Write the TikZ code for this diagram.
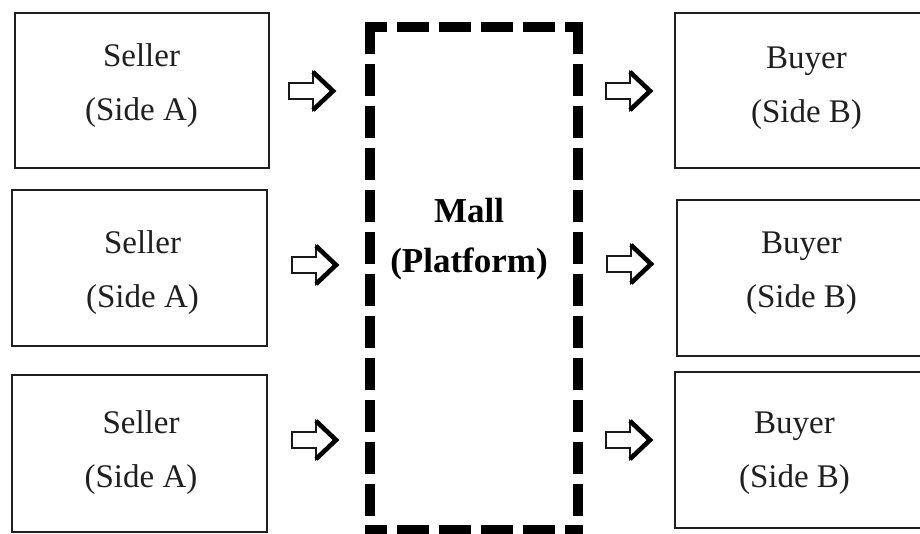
\documentclass[tikz,border=0pt]{standalone}
\usepackage{fontspec}
\setmainfont{Liberation Serif}
\begin{document}
\begin{tikzpicture}[x=1pt,y=-1pt,
  box/.style={draw=black!88, line width=2.4pt, rectangle, inner sep=0pt,
              minimum width=#1},
  boxtext/.style={align=center, text=black!88, inner sep=0pt,
                  font=\fontsize{33}{54}\selectfont},
  platformtext/.style={align=center, text=black, inner sep=0pt,
                       font=\fontsize{35}{50}\selectfont\bfseries},
  platformedge/.style={line width=10pt, line cap=butt,
                       dash pattern=on 32pt off 10pt, dash phase=10pt},
  fatarrow/.pic={
    % outlined shaft and head
    \draw[line width=1.6pt, fill=white, line join=miter, draw=black!90]
      (0,-8) -- (24,-8) -- (24,-19) -- (44,0) -- (24,19) -- (24,8) -- (0,8) -- cycle;
    % heavy chevron on the head
    \draw[line width=4.6pt, line join=miter, line cap=butt]
      (24,-19) -- (44,0) -- (24,19);
  }]
  \useasboundingbox (0,0) rectangle (920,533);
  \fill[white] (0,0) rectangle (920,533);
  \clip (0,0) rectangle (920,533);

  % sellers
  \node[box=254pt, minimum height=155pt] (s1) at (142,90.5) {};
  \node[box=255pt, minimum height=156pt] (s2) at (139.5,268) {};
  \node[box=255pt, minimum height=157pt] (s3) at (139.5,453.5) {};
  \node[boxtext] (s1t) at (141.5,85.5) {Seller\\(Side A)};
  \node[boxtext] (s2t) at (142.5,272.5) {Seller\\(Side A)};
  \node[boxtext] (s3t) at (141,452.5) {Seller\\(Side A)};

  % buyers (running off the right edge)
  \node[box=265pt, minimum height=155pt] (b1) at (807.5,90.5) {};
  \node[box=263pt, minimum height=156pt] (b2) at (808.5,278) {};
  \node[box=265pt, minimum height=156pt] (b3) at (807.5,450) {};
  \node[boxtext] (b1t) at (806.5,88) {Buyer\\(Side B)};
  \node[boxtext] (b2t) at (801.5,273) {Buyer\\(Side B)};
  \node[boxtext] (b3t) at (794.5,453) {Buyer\\(Side B)};

  % platform: heavy dashed frame
  \coordinate (mtl) at (370,27);
  \coordinate (mbr) at (578,530);
  \draw[platformedge] ([xshift=-5pt]mtl) -- ([xshift=5pt]mtl -| mbr);
  \draw[platformedge] ([yshift=-5pt]mtl) -- ([yshift=5pt]mtl |- mbr);
  \draw[platformedge] ([yshift=-5pt]mtl -| mbr) -- ([yshift=5pt]mbr);
  \draw[platformedge] ([xshift=-5pt]mtl |- mbr) -- ([xshift=5pt]mbr);
  \node[platformtext] (m) at (469,239) {Mall\\(Platform)};

  % flow arrows
  \pic at (289,91) {fatarrow};
  \pic at (292,265) {fatarrow};
  \pic at (292,440) {fatarrow};
  \pic at (606,91) {fatarrow};
  \pic at (607,264) {fatarrow};
  \pic at (606,440) {fatarrow};
\end{tikzpicture}
\end{document}
